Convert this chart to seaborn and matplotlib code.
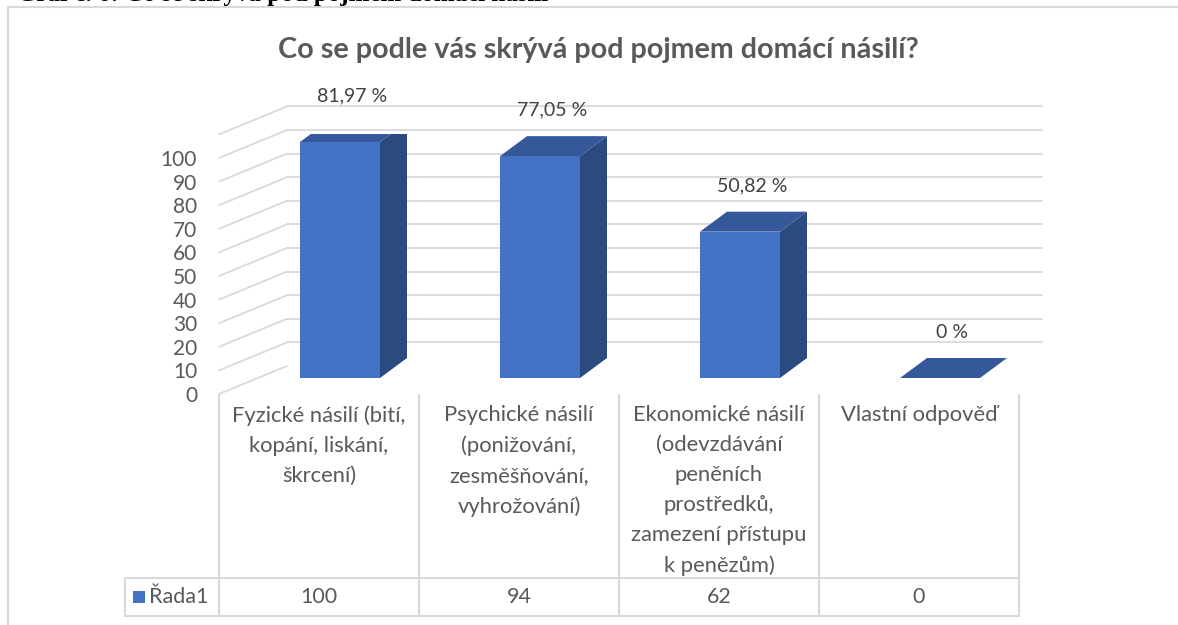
import pandas as pd
import seaborn as sns
import matplotlib.pyplot as plt
from matplotlib.patches import Polygon, Rectangle
from matplotlib.lines import Line2D
from matplotlib.transforms import offset_copy, blended_transform_factory

# data
categories = ["Fyzické násilí (bití,\nkopání, liskání,\nškrcení)",
              "Psychické násilí\n(ponižování,\nzesměšňování,\nvyhrožování)",
              "Ekonomické násilí\n(odevzdávání\npeněních\nprostředků,\nzamezení přístupu\nk penězům)",
              "Vlastní odpověď"]
values = [100, 94, 62, 0]
pct_labels = ["81,97 %", "77,05 %", "50,82 %", "0 %"]
y_ticks = [0, 10, 20, 30, 40, 50, 60, 70, 80, 90, 100]
grid_levels = [0, 10, 20, 30, 40, 50, 60, 70, 80, 90, 100, 110]
series_name = "Řada1"
title = "Co se podle vás skrývá pod pojmem domácí násilí?"
caption = "Graf č. 6: Co se skrývá pod pojmem domácí násilí"

# barvy
FRONT = "#4472C4"
SIDE = "#2B4A7E"
TOP = "#34589A"
GRID = "#D9D9D9"
TXT = "#595959"

sns.set_style("white")
plt.rcParams['font.family'] = ['Lato', 'DejaVu Sans']

W, H = 1178, 625
fig = plt.figure(figsize=(W / 100, H / 100), dpi=100)


def fx(px):
    return px / W


def fy(py):
    return 1 - py / H


# hlavni osa = predni rovina grafu
ax = fig.add_axes([fx(219), fy(394), fx(1019) - fx(219), fy(134.4) - fy(394)])

df = pd.DataFrame({'kategorie': categories, 'hodnota': values})
sns.barplot(data=df, x='kategorie', y='hodnota', width=0.4, color=FRONT,
            saturation=1, linewidth=0, ax=ax, zorder=3)
ax.set_xlim(-0.5, 3.5)
ax.set_ylim(0, 110)

px_cat = 800 / 4
px_val = (394 - 134.4) / 110

# 3D efekt - posun sloupcu a bocni / horni steny
shift = offset_copy(ax.transData, fig=fig, x=21, y=16, units='dots')
dxu, dyu = 27 / px_cat, 20 / px_val
for p in list(ax.patches):
    p.set_transform(shift)
    x0, w, h = p.get_x(), p.get_width(), p.get_height()
    x1 = x0 + w
    side = Polygon([(x1, 0), (x1 + dxu, dyu), (x1 + dxu, h + dyu), (x1, h)],
                   closed=True, facecolor=SIDE, edgecolor='none', transform=shift, zorder=3)
    top = Polygon([(x0, h), (x0 + dxu, h + dyu), (x1 + dxu, h + dyu), (x1, h)],
                  closed=True, facecolor=TOP, edgecolor='none', transform=shift, zorder=4)
    ax.add_patch(side)
    ax.add_patch(top)

# popisky dat
lab_tr = offset_copy(ax.transData, fig=fig, x=33, y=16 + 20 + 26, units='dots')
for i, (v, s) in enumerate(zip(values, pct_labels)):
    ax.text(i, v, s, transform=lab_tr, ha='center', va='center',
            fontsize=14, color="#404040", zorder=5)

# mrizka - leva stena a zadni stena
wall_dx = 68 / px_cat
wall_dy = 28 / px_val
back_right = (1042 - 219) / px_cat - 0.5
for v in grid_levels:
    ax.add_line(Line2D([-0.5, -0.5 + wall_dx], [v, v + wall_dy], color=GRID,
                       lw=1.3, clip_on=False, zorder=0))
    if v > 0:
        ax.add_line(Line2D([-0.5 + wall_dx, back_right], [v + wall_dy, v + wall_dy],
                           color=GRID, lw=1.3, clip_on=False, zorder=0))

for sp in ax.spines.values():
    sp.set_visible(False)
ax.set_xlabel('')
ax.set_ylabel('')
ax.set_yticks(y_ticks)
ax.tick_params(axis='y', length=0, pad=15.8, labelsize=15, labelcolor=TXT)
ax.tick_params(axis='x', length=0, pad=8, labelsize=15.8, labelcolor=TXT)
ax.set_xticks(range(len(categories)))
ax.set_xticklabels(categories)
for lbl in ax.get_xticklabels():
    lbl.set_linespacing(1.62)

# datova tabulka
blend = blended_transform_factory(ax.transData, fig.transFigure)
head_left = -0.5 - 94 / px_cat
for xb in [-0.5, 0.5, 1.5, 2.5, 3.5]:
    fig.add_artist(Line2D([xb, xb], [fy(395), fy(616)], transform=blend, color=GRID, lw=1.5))
fig.add_artist(Line2D([head_left, head_left], [fy(578), fy(616)], transform=blend, color=GRID, lw=1.5))
for yy in [578, 616]:
    fig.add_artist(Line2D([head_left, 3.5], [fy(yy), fy(yy)], transform=blend, color=GRID, lw=1.5))
for i, v in enumerate(values):
    ax.text(i, fy(597), str(v), transform=blend, ha='center', va='center',
            fontsize=15.5, color=TXT)
fig.add_artist(Rectangle((fx(133), fy(603)), fx(12), 12 / H, transform=fig.transFigure,
                         facecolor=FRONT, edgecolor='none'))
fig.text(fx(149), fy(597), series_name, ha='left', va='center', fontsize=15.5, color=TXT)

# nadpis
fig.text(fx(598), fy(50), title, ha='center', va='center', fontsize=20.7,
         fontweight='bold', color=TXT)

# ramecek grafu
fig.add_artist(Line2D([fx(8), 1], [fy(7), fy(7)], transform=fig.transFigure, color=GRID, lw=1.5))
fig.add_artist(Line2D([fx(8), fx(8)], [fy(7), 0], transform=fig.transFigure, color=GRID, lw=1.5))

# oriznuty popisek nad grafem (v predloze je z vetsi casti mimo obrazek)
fig.text(fx(17), fy(1), caption, ha='left', va='baseline', fontsize=18,
         fontweight='bold', family=['Liberation Serif', 'DejaVu Serif'], color='black')

fig.savefig('out.png', dpi=100)
